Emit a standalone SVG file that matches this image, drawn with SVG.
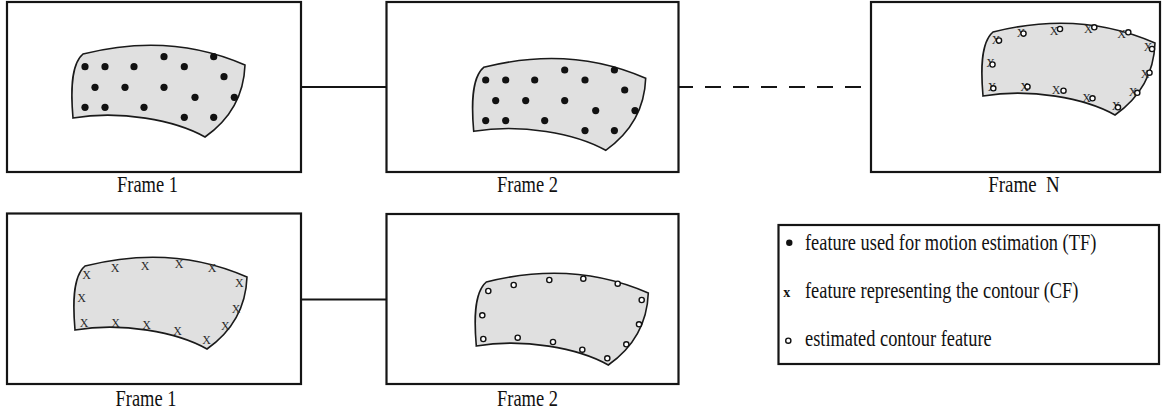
<svg xmlns="http://www.w3.org/2000/svg" width="1162" height="418" viewBox="0 0 1162 418">
<defs>
<style>
.frame{fill:#fff;stroke:#151515;stroke-width:2.2}
.blob{fill:#e0e0e0;stroke:#1a1a1a;stroke-width:1.6}
.dot{fill:#111}
.ring{fill:#fff;stroke:#111;stroke-width:1.4}
.conn{stroke:#151515;stroke-width:2.2;fill:none}
.lbl{font-family:"Liberation Serif",serif;font-size:24px;fill:#111;text-anchor:middle}
.leg{font-family:"Liberation Serif",serif;font-size:24px;fill:#111}
.xm{font-family:"Liberation Serif",serif;font-size:12px;fill:#2a2a2a;text-anchor:middle}
</style>
<path id="shape" d="M83,54 Q170,32 245,65 C244,92 232,118 205,137 C175,120 120,110 73,118 C71,95 70,65 83,54 Z"/>
</defs>
<rect width="1162" height="418" fill="#fff"/>
<g id="connectors">
<line class="conn" x1="301" y1="87" x2="386.5" y2="87"/>
<line class="conn" x1="679" y1="87" x2="861" y2="87" stroke-dasharray="16 12" stroke-dashoffset="2"/>
<line class="conn" x1="301" y1="299.5" x2="386.5" y2="299.5"/>
</g>
<g id="frame1-top">
<rect class="frame" x="7" y="2" width="294" height="170"/>
<use href="#shape" class="blob"/>
<g class="dot">
<circle cx="85" cy="66.7" r="3.6"/><circle cx="105" cy="66.7" r="3.6"/><circle cx="134" cy="66.7" r="3.6"/><circle cx="164" cy="56.7" r="3.6"/><circle cx="184.3" cy="66.7" r="3.6"/><circle cx="213.7" cy="56.7" r="3.6"/><circle cx="224" cy="76.7" r="3.6"/><circle cx="95" cy="87.3" r="3.6"/><circle cx="125" cy="87.3" r="3.6"/><circle cx="164" cy="87.3" r="3.6"/><circle cx="195" cy="97.3" r="3.6"/><circle cx="234.3" cy="97.3" r="3.6"/><circle cx="85" cy="107.3" r="3.6"/><circle cx="105" cy="107.3" r="3.6"/><circle cx="144" cy="107.3" r="3.6"/><circle cx="184.3" cy="117.3" r="3.6"/><circle cx="213.7" cy="117.3" r="3.6"/>
</g>
<text class="lbl" transform="translate(147.5,192) scale(0.77,1)">Frame 1</text>
</g>
<g id="frame2-top">
<rect class="frame" x="386.5" y="2" width="292" height="170"/>
<g transform="translate(400.7,13.3)">
<use href="#shape" class="blob"/>
<g class="dot">
<circle cx="85" cy="66.7" r="3.6"/><circle cx="105" cy="66.7" r="3.6"/><circle cx="134" cy="66.7" r="3.6"/><circle cx="164" cy="56.7" r="3.6"/><circle cx="184.3" cy="66.7" r="3.6"/><circle cx="213.7" cy="56.7" r="3.6"/><circle cx="224" cy="76.7" r="3.6"/><circle cx="95" cy="87.3" r="3.6"/><circle cx="125" cy="87.3" r="3.6"/><circle cx="164" cy="87.3" r="3.6"/><circle cx="195" cy="97.3" r="3.6"/><circle cx="234.3" cy="97.3" r="3.6"/><circle cx="85" cy="107.3" r="3.6"/><circle cx="105" cy="107.3" r="3.6"/><circle cx="144" cy="107.3" r="3.6"/><circle cx="184.3" cy="117.3" r="3.6"/><circle cx="213.7" cy="117.3" r="3.6"/>
</g>
</g>
<text class="lbl" transform="translate(527.5,192) scale(0.77,1)">Frame 2</text>
</g>
<g id="frameN-top">
<rect class="frame" x="871" y="2" width="289" height="170"/>
<g transform="translate(910,-22)">
<use href="#shape" class="blob"/>
</g>
<g class="xm">
<text x="996" y="44">X</text><text x="1021" y="37">X</text><text x="1054" y="35">X</text><text x="1088.3" y="33">X</text><text x="1121.5" y="38">X</text><text x="1148" y="51">X</text><text x="990.5" y="67">X</text><text x="1145" y="78">X</text><text x="1133" y="96">X</text><text x="1116" y="110">X</text><text x="992" y="91">X</text><text x="1024.5" y="90.5">X</text><text x="1056" y="94">X</text><text x="1086.5" y="101.5">X</text>
</g>
<g class="ring">
<circle cx="999" cy="40.5" r="2.6"/><circle cx="1023.5" cy="33.5" r="2.6"/><circle cx="1060" cy="29" r="2.6"/><circle cx="1094.3" cy="27.3" r="2.6"/><circle cx="1128.3" cy="32.3" r="2.6"/><circle cx="1152" cy="49" r="2.6"/><circle cx="992.5" cy="64.5" r="2.6"/><circle cx="1149.5" cy="72.7" r="2.6"/><circle cx="1137.3" cy="92.8" r="2.6"/><circle cx="1118" cy="107.3" r="2.6"/><circle cx="993.3" cy="88.3" r="2.6"/><circle cx="1027.5" cy="86.7" r="2.6"/><circle cx="1063.5" cy="90.7" r="2.6"/><circle cx="1092.5" cy="98.3" r="2.6"/>
</g>
<text class="lbl" transform="translate(1024,192) scale(0.79,1)" xml:space="preserve">Frame  N</text>
</g>
<g id="frame1-bottom">
<rect class="frame" x="7" y="213.5" width="294" height="170.5"/>
<g transform="translate(2,212)">
<use href="#shape" class="blob"/>
</g>
<g class="xm">
<text x="86.7" y="279">X</text><text x="115" y="272.3">X</text><text x="145" y="270">X</text><text x="179" y="268">X</text><text x="212" y="271.7">X</text><text x="239.3" y="287.3">X</text><text x="81.7" y="301.7">X</text><text x="236" y="313">X</text><text x="84" y="326.7">X</text><text x="115.7" y="326.7">X</text><text x="146.7" y="329">X</text><text x="177.7" y="335">X</text><text x="206.7" y="344">X</text><text x="225.3" y="330">X</text>
</g>
<text class="lbl" transform="translate(146,406) scale(0.77,1)">Frame 1</text>
</g>
<g id="frame2-bottom">
<rect class="frame" x="386.5" y="214" width="292" height="170"/>
<g transform="translate(403.3,228)">
<use href="#shape" class="blob"/>
</g>
<g class="ring">
<circle cx="488.3" cy="291" r="2.6"/><circle cx="513.7" cy="285" r="2.6"/><circle cx="549.3" cy="280" r="2.6"/><circle cx="583.3" cy="278.7" r="2.6"/><circle cx="617.7" cy="283.7" r="2.6"/><circle cx="641.7" cy="300" r="2.6"/><circle cx="482.3" cy="315.3" r="2.6"/><circle cx="639" cy="324.3" r="2.6"/><circle cx="483.3" cy="339" r="2.6"/><circle cx="517.7" cy="337.7" r="2.6"/><circle cx="553" cy="342" r="2.6"/><circle cx="582.3" cy="349.7" r="2.6"/><circle cx="626.3" cy="344.3" r="2.6"/><circle cx="607.3" cy="358.3" r="2.6"/>
</g>
<text class="lbl" transform="translate(527.5,406) scale(0.77,1)">Frame 2</text>
</g>
<g id="legend">
<rect class="frame" x="778.5" y="225" width="380.5" height="139"/>
<circle class="dot" cx="789.3" cy="242.7" r="3.2"/>
<text class="leg" transform="translate(805,250) scale(0.766,1)">feature used for motion estimation (TF)</text>
<text x="786.7" y="297" font-family="Liberation Serif, serif" font-size="14" font-weight="bold" fill="#111" text-anchor="middle">x</text>
<text class="leg" transform="translate(805,297.5) scale(0.766,1)">feature representing the contour (CF)</text>
<circle class="ring" cx="788.3" cy="340.7" r="2.6"/>
<text class="leg" transform="translate(805,345.5) scale(0.766,1)">estimated contour feature</text>
</g>
</svg>
